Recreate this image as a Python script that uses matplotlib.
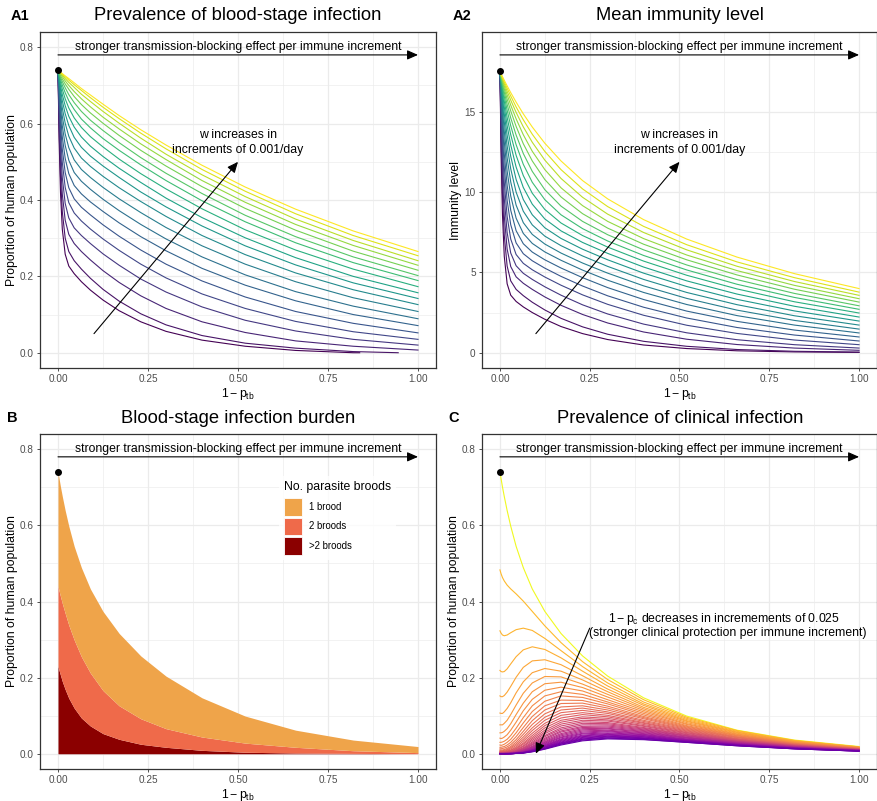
import numpy as np
import matplotlib.pyplot as plt
from matplotlib.patches import Patch

plt.rcParams['font.family'] = ['Liberation Sans', 'DejaVu Sans']
plt.rcParams['mathtext.fontset'] = 'custom'
plt.rcParams['mathtext.rm'] = 'Liberation Sans'
plt.rcParams['mathtext.it'] = 'Liberation Sans:italic'

### data ###
# 1 - p_tb values where the curves were read
p_tb = [0, 0.003, 0.007, 0.012, 0.02, 0.03, 0.045, 0.065, 0.09, 0.125, 0.17,
        0.23, 0.3, 0.4, 0.52, 0.66, 0.82, 1.0]

# A1: prevalence (per mille), one row per w, smallest w first
a1_prev = [
    [740, 562, 418, 323, 258, 227, 207, 186, 164, 138, 110, 81, 56, 33, 17, 6, 0, 0],
    [740, 589, 460, 369, 300, 265, 241, 219, 195, 166, 135, 102, 73, 45, 25, 12, 3, 0],
    [740, 613, 500, 415, 347, 310, 286, 265, 243, 215, 184, 149, 116, 81, 53, 31, 17, 7],
    [740, 634, 536, 458, 391, 353, 327, 307, 286, 259, 229, 193, 159, 120, 85, 57, 35, 20],
    [740, 653, 568, 498, 433, 393, 366, 345, 324, 298, 268, 232, 196, 154, 116, 82, 55, 35],
    [740, 668, 596, 533, 472, 432, 403, 381, 361, 335, 305, 269, 232, 188, 146, 108, 77, 52],
    [740, 681, 621, 565, 509, 469, 438, 416, 395, 370, 340, 304, 267, 221, 177, 136, 100, 71],
    [740, 692, 642, 594, 543, 504, 472, 449, 428, 402, 372, 336, 298, 251, 204, 160, 122, 89],
    [740, 702, 660, 619, 573, 537, 505, 480, 459, 433, 403, 367, 328, 280, 232, 186, 144, 108],
    [740, 710, 676, 641, 601, 567, 536, 510, 488, 462, 432, 396, 357, 307, 257, 209, 165, 126],
    [740, 716, 689, 660, 626, 595, 564, 538, 515, 489, 459, 421, 382, 332, 280, 230, 183, 142],
    [740, 721, 699, 676, 647, 619, 591, 565, 541, 514, 483, 446, 405, 354, 301, 249, 200, 157],
    [740, 726, 708, 690, 665, 641, 615, 590, 566, 539, 507, 469, 429, 377, 322, 269, 219, 173],
    [740, 729, 716, 701, 681, 660, 637, 612, 589, 561, 530, 492, 451, 398, 343, 288, 236, 189],
    [740, 732, 721, 710, 694, 676, 655, 632, 609, 582, 550, 511, 470, 417, 360, 304, 251, 202],
    [740, 734, 726, 717, 704, 690, 671, 650, 628, 601, 569, 530, 489, 435, 378, 321, 266, 216],
    [740, 735, 730, 723, 712, 700, 684, 665, 644, 617, 586, 547, 506, 451, 394, 336, 281, 229],
    [740, 737, 732, 727, 718, 708, 695, 677, 658, 632, 601, 562, 520, 466, 409, 350, 294, 241],
    [740, 737, 734, 729, 723, 714, 702, 687, 668, 643, 613, 575, 534, 480, 423, 364, 307, 254],
    [740, 738, 735, 731, 725, 718, 707, 692, 675, 651, 621, 584, 544, 491, 434, 376, 319, 265],
]
# where each A1 curve stops (the two lowest reach zero early)
a1_last_x = [0.838, 0.945] + [1.0] * 18

# A2: mean immunity level (hundredths), same order
a2_imm = [
    [1750, 1255, 859, 600, 429, 358, 319, 285, 250, 208, 163, 119, 82, 48, 26, 12, 5, 2],
    [1750, 1341, 987, 731, 539, 447, 394, 355, 314, 266, 214, 161, 115, 71, 40, 20, 9, 4],
    [1750, 1410, 1096, 851, 645, 536, 472, 432, 394, 347, 295, 238, 185, 129, 84, 51, 29, 15],
    [1750, 1467, 1191, 960, 747, 620, 541, 494, 456, 410, 358, 298, 241, 178, 124, 81, 50, 29],
    [1750, 1515, 1275, 1061, 848, 707, 611, 556, 516, 471, 420, 360, 301, 233, 171, 120, 79, 50],
    [1750, 1556, 1349, 1154, 947, 796, 683, 616, 572, 526, 475, 415, 354, 283, 216, 157, 110, 73],
    [1750, 1589, 1412, 1238, 1041, 886, 759, 678, 626, 578, 527, 467, 405, 331, 259, 195, 141, 98],
    [1750, 1617, 1467, 1313, 1130, 975, 837, 742, 680, 627, 575, 514, 451, 375, 300, 231, 172, 123],
    [1750, 1641, 1513, 1379, 1212, 1062, 918, 809, 736, 676, 620, 558, 495, 416, 338, 265, 201, 147],
    [1750, 1660, 1553, 1437, 1286, 1144, 999, 880, 795, 725, 666, 602, 537, 456, 375, 299, 230, 172],
    [1750, 1676, 1586, 1486, 1353, 1222, 1078, 953, 858, 777, 711, 644, 578, 495, 412, 332, 260, 197],
    [1750, 1689, 1614, 1529, 1412, 1292, 1155, 1028, 924, 832, 758, 686, 618, 533, 447, 365, 289, 222],
    [1750, 1700, 1637, 1565, 1463, 1356, 1228, 1102, 992, 891, 807, 729, 657, 570, 482, 397, 317, 247],
    [1750, 1708, 1656, 1595, 1508, 1412, 1294, 1172, 1060, 952, 858, 772, 695, 605, 515, 426, 344, 270],
    [1750, 1716, 1672, 1621, 1545, 1461, 1354, 1239, 1128, 1014, 912, 817, 734, 640, 546, 455, 369, 292],
    [1750, 1722, 1685, 1642, 1577, 1504, 1408, 1300, 1193, 1077, 969, 865, 775, 675, 578, 484, 395, 315],
    [1750, 1726, 1696, 1659, 1604, 1540, 1455, 1356, 1253, 1139, 1026, 915, 817, 710, 608, 511, 419, 336],
    [1750, 1730, 1705, 1674, 1626, 1571, 1495, 1405, 1309, 1198, 1084, 967, 862, 748, 640, 538, 443, 357],
    [1750, 1733, 1712, 1685, 1645, 1597, 1529, 1449, 1359, 1252, 1139, 1019, 909, 786, 672, 565, 467, 377],
    [1750, 1736, 1717, 1695, 1660, 1618, 1559, 1486, 1404, 1303, 1193, 1071, 957, 828, 707, 595, 492, 399],
]

# B: stacked burden (per mille): all infected, >=2 broods, >2 broods
b_total = [740, 723, 701, 676, 639, 598, 545, 489, 433, 374, 316, 257, 204, 147, 99, 62, 36, 19]
b_two_plus = [440, 428, 413, 395, 369, 338, 299, 255, 212, 166, 126, 92, 66, 44, 28, 17, 8, 3]
b_more = [230, 219, 206, 190, 169, 146, 120, 94, 73, 53, 38, 25, 17, 9, 4, 2, 1, 0]
brood_labels = ['1 brood', '2 broods', '>2 broods']
brood_colors = ['#efa44a', '#ef6a4a', '#8b0000']

# C: clinical prevalence (per mille), 1 - p_c = 1, 0.975, ... , 0
c_clin = [
    [740, 723, 701, 676, 639, 598, 545, 489, 433, 374, 316, 257, 204, 147, 99, 62, 36, 19],
    [483, 473, 463, 454, 443, 433, 420, 401, 374, 336, 292, 242, 195, 142, 96, 61, 35, 18],
    [323, 317, 312, 310, 312, 318, 326, 330, 324, 303, 271, 229, 186, 136, 93, 59, 34, 18],
    [219, 216, 215, 216, 223, 236, 255, 273, 281, 274, 252, 217, 178, 131, 90, 57, 33, 17],
    [152, 150, 150, 153, 162, 177, 201, 227, 244, 247, 234, 205, 170, 127, 87, 56, 32, 17],
    [107, 106, 106, 110, 119, 134, 160, 189, 213, 224, 217, 194, 163, 122, 85, 54, 32, 16],
    [76, 76, 76, 80, 88, 103, 128, 159, 186, 203, 202, 183, 156, 118, 82, 52, 31, 16],
    [55, 55, 56, 59, 66, 79, 103, 133, 163, 184, 188, 174, 149, 114, 79, 51, 30, 16],
    [41, 40, 41, 44, 50, 62, 83, 113, 143, 167, 175, 165, 142, 110, 77, 49, 29, 15],
    [30, 30, 31, 33, 38, 48, 67, 95, 126, 152, 163, 156, 136, 106, 74, 48, 28, 15],
    [23, 22, 23, 25, 30, 38, 55, 81, 111, 138, 152, 148, 131, 102, 72, 47, 27, 14],
    [17, 17, 18, 19, 23, 30, 45, 69, 98, 126, 141, 140, 125, 98, 70, 45, 27, 14],
    [13, 13, 14, 15, 18, 24, 37, 59, 87, 115, 132, 133, 120, 95, 68, 44, 26, 14],
    [10, 10, 10, 11, 14, 19, 31, 51, 77, 105, 123, 126, 115, 92, 66, 43, 25, 13],
    [8, 8, 8, 9, 11, 16, 26, 44, 68, 96, 115, 120, 110, 88, 64, 42, 25, 13],
    [6, 6, 6, 7, 9, 13, 22, 38, 61, 88, 108, 114, 106, 85, 62, 40, 24, 13],
    [5, 5, 5, 6, 7, 10, 18, 33, 54, 80, 101, 108, 101, 82, 60, 39, 23, 12],
    [4, 4, 4, 5, 6, 9, 15, 28, 48, 74, 94, 103, 97, 80, 58, 38, 23, 12],
    [3, 3, 3, 4, 5, 7, 13, 25, 43, 68, 88, 97, 93, 77, 56, 37, 22, 12],
    [2, 2, 3, 3, 4, 6, 11, 21, 39, 62, 83, 93, 89, 74, 55, 36, 22, 11],
    [2, 2, 2, 2, 3, 5, 9, 19, 35, 57, 78, 88, 86, 72, 53, 35, 21, 11],
    [2, 2, 2, 2, 3, 4, 8, 16, 31, 53, 73, 84, 82, 69, 51, 34, 21, 11],
    [1, 1, 1, 2, 2, 3, 7, 14, 28, 48, 68, 80, 79, 67, 50, 33, 20, 11],
    [1, 1, 1, 1, 2, 3, 6, 13, 25, 45, 64, 76, 76, 65, 48, 32, 20, 10],
    [1, 1, 1, 1, 2, 2, 5, 11, 23, 41, 60, 72, 73, 63, 47, 32, 19, 10],
    [1, 1, 1, 1, 1, 2, 4, 10, 20, 38, 57, 69, 70, 61, 46, 31, 19, 10],
    [1, 1, 1, 1, 1, 2, 4, 9, 18, 35, 53, 66, 67, 59, 44, 30, 18, 10],
    [1, 1, 1, 1, 1, 2, 3, 8, 17, 32, 50, 63, 65, 57, 43, 29, 18, 9],
    [0, 0, 0, 1, 1, 1, 3, 7, 15, 30, 47, 60, 62, 55, 42, 28, 17, 9],
    [0, 0, 0, 0, 1, 1, 2, 6, 14, 28, 44, 57, 60, 53, 41, 28, 17, 9],
    [0, 0, 0, 0, 1, 1, 2, 5, 12, 26, 42, 54, 58, 51, 39, 27, 16, 9],
    [0, 0, 0, 0, 0, 1, 2, 5, 11, 24, 39, 52, 55, 50, 38, 26, 16, 9],
    [0, 0, 0, 0, 0, 1, 2, 4, 10, 22, 37, 49, 53, 48, 37, 25, 16, 8],
    [0, 0, 0, 0, 0, 1, 1, 4, 9, 21, 35, 47, 51, 47, 36, 25, 15, 8],
    [0, 0, 0, 0, 0, 1, 1, 3, 9, 19, 33, 45, 49, 45, 35, 24, 15, 8],
    [0, 0, 0, 0, 0, 0, 1, 3, 8, 18, 31, 43, 47, 44, 34, 24, 14, 8],
    [0, 0, 0, 0, 0, 0, 1, 3, 7, 17, 29, 41, 46, 42, 33, 23, 14, 8],
    [0, 0, 0, 0, 0, 0, 1, 3, 7, 15, 28, 39, 44, 41, 32, 22, 14, 7],
    [0, 0, 0, 0, 0, 0, 1, 2, 6, 14, 26, 38, 42, 40, 31, 22, 13, 7],
    [0, 0, 0, 0, 0, 0, 1, 2, 6, 13, 25, 36, 41, 38, 30, 21, 13, 7],
    [0, 0, 0, 0, 0, 0, 1, 2, 5, 12, 23, 34, 39, 37, 30, 21, 13, 7],
]

start_prev = 0.74
start_imm = 17.5

#------------------------------------------------
fig = plt.figure(figsize=(8.78, 8.01), dpi=100)
W, H = 878, 801


def add_ax(l, t, r, b):
    return fig.add_axes([l / W, 1 - b / H, (r - l) / W, (b - t) / H])


ARROW = dict(arrowstyle='-|>,head_length=0.5,head_width=0.22', mutation_scale=13,
             color='black', lw=0.8, shrinkA=0, shrinkB=0)


def style(ax, ymax, yticks, ylabels, ylab):
    ax.set_xticks([0, 0.25, 0.5, 0.75, 1.0])
    ax.set_xticklabels(['0.00', '0.25', '0.50', '0.75', '1.00'])
    ax.set_xticks([0.125, 0.375, 0.625, 0.875], minor=True)
    ax.set_yticks(yticks)
    ax.set_yticklabels(ylabels)
    ax.set_yticks([(a + b) / 2 for a, b in zip(yticks[:-1], yticks[1:])], minor=True)
    ax.set_xlim(-0.05, 1.05)
    ax.set_ylim(-0.05 * ymax, 1.05 * ymax)
    ax.grid(which='major', color='#ebebeb', lw=0.9)
    ax.grid(which='minor', color='#ebebeb', lw=0.45)
    ax.set_axisbelow(True)
    for s in ax.spines.values():
        s.set_color('#333333')
        s.set_linewidth(0.9)
    ax.tick_params(which='major', length=2.5, width=0.6, color='#333333',
                   labelsize=7.2, labelcolor='#4d4d4d', pad=2)
    ax.tick_params(which='minor', length=0)
    ax.set_xlabel(r'$\mathregular{1 - p_{tb}}$', fontsize=8.8, labelpad=1)
    ax.set_ylabel(ylab, fontsize=8.8, labelpad=1.5)
    # arrow + label along the top
    ax.annotate('', xy=(1, 0.975 * ymax), xytext=(0, 0.975 * ymax), arrowprops=ARROW)
    ax.text(0.5, ymax, 'stronger transmission-blocking effect per immune increment',
            ha='center', va='center', fontsize=8.8)


axA1 = add_ax(40, 32, 436, 368)
axA2 = add_ax(482, 32, 877, 368)
axB = add_ax(40, 434, 436, 769)
axC = add_ax(482, 434, 877, 769)

x = np.array(p_tb)
vir = plt.cm.viridis(np.linspace(0, 1, len(a1_prev)))

# --- A1 ---
for i, row in enumerate(a1_prev):
    xi = np.append(x[:-1], a1_last_x[i])
    axA1.plot(xi, np.array(row) / 1000, color=vir[i], lw=0.8)
axA1.plot(0, start_prev, 'o', color='black', ms=4)
style(axA1, 0.8, [0, 0.2, 0.4, 0.6, 0.8], ['0.0', '0.2', '0.4', '0.6', '0.8'],
      'Proportion of human population')
axA1.annotate('', xy=(0.5, 0.5), xytext=(0.1, 0.05), arrowprops=ARROW)
axA1.text(0.5, 0.55, 'w increases in\nincrements of 0.001/day', ha='center',
          va='center', fontsize=8.8, linespacing=1.35)

# --- A2 ---
for i, row in enumerate(a2_imm):
    axA2.plot(x, np.array(row) / 100, color=vir[i], lw=0.8)
axA2.plot(0, start_imm, 'o', color='black', ms=4)
style(axA2, 19, [0, 5, 10, 15], ['0', '5', '10', '15'], 'Immunity level')
axA2.annotate('', xy=(0.5, 11.875), xytext=(0.1, 1.1875), arrowprops=ARROW)
axA2.text(0.5, 0.55 * 23.75, 'w increases in\nincrements of 0.001/day', ha='center',
          va='center', fontsize=8.8, linespacing=1.35)

# --- B ---
bt = np.array(b_total) / 1000
b2 = np.array(b_two_plus) / 1000
b3 = np.array(b_more) / 1000
axB.fill_between(x, 0, b3, color=brood_colors[2], lw=0)
axB.fill_between(x, b3, b2, color=brood_colors[1], lw=0)
axB.fill_between(x, b2, bt, color=brood_colors[0], lw=0)
axB.plot(0, start_prev, 'o', color='black', ms=4)
style(axB, 0.8, [0, 0.2, 0.4, 0.6, 0.8], ['0.0', '0.2', '0.4', '0.6', '0.8'],
      'Proportion of human population')
handles = [Patch(facecolor=c, edgecolor='white', lw=0.6) for c in brood_colors]
leg = axB.legend(handles, brood_labels, title='No. parasite broods',
                 loc='upper left', bbox_to_anchor=(0.592, 0.888), fontsize=6.9,
                 title_fontsize=8.8, frameon=True, fancybox=False, edgecolor='none',
                 handlelength=1.85, handleheight=2.46, labelspacing=0.2,
                 handletextpad=0.75, borderpad=0.5)
leg._legend_box.align = 'left'
leg._legend_box.sep = 3.6

# --- C ---
plas = [plt.cm.plasma(1.0)] + list(plt.cm.plasma(np.linspace(0.85, 0.2, len(c_clin) - 1)))
for j, row in enumerate(c_clin):
    axC.plot(x, np.array(row) / 1000, color=plas[j], lw=0.8)
axC.plot(0, start_prev, 'o', color='black', ms=4)
style(axC, 0.8, [0, 0.2, 0.4, 0.6, 0.8], ['0.0', '0.2', '0.4', '0.6', '0.8'],
      'Proportion of human population')
axC.annotate('', xy=(0.1, 0.0), xytext=(0.25, 0.33), arrowprops=ARROW)
axC.text(0.625, 0.355, r'$\mathregular{1 - p_c}$ decreases in incremements of 0.025',
         ha='center', va='center', fontsize=8.8)
axC.text(0.635, 0.318, '(stronger clinical protection per immune increment)',
         ha='center', va='center', fontsize=8.8)

# panel tags and titles
for lab, title, xl, xt in [('A1', 'Prevalence of blood-stage infection', 11, 238),
                           ('A2', 'Mean immunity level', 453, 680),
                           ('B', 'Blood-stage infection burden', 7, 238),
                           ('C', 'Prevalence of clinical infection', 448, 680)]:
    yy = 16 if lab.startswith('A') else 418
    fig.text(xl / W, 1 - yy / H, lab, fontsize=10.5, fontweight='bold', va='center')
    fig.text(xt / W, 1 - yy / H, title, fontsize=13.2, ha='center', va='center')

fig.savefig('out.png', dpi=100)
